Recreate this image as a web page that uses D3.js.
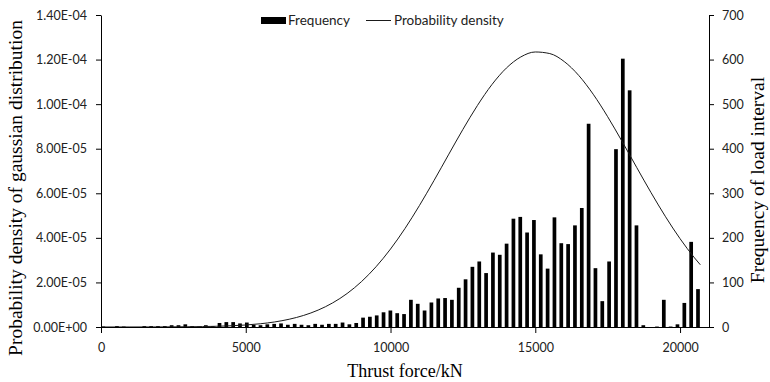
<!DOCTYPE html>
<html>
<head>
<meta charset="utf-8">
<script src="https://cdn.jsdelivr.net/npm/d3@7"></script>
<style>
  html, body { margin: 0; padding: 0; background: #fff; }
  svg { display: block; }
  .tick text { font-family: Lato, "Open Sans", sans-serif; font-size: 12.5px; fill: #222; }
</style>
</head>
<body>
<svg id="chart" width="770" height="382"></svg>
<script>
// ---- data ----
const binCenters = [79, 315, 551, 787, 1023, 1260, 1496, 1732, 1968, 2204,
  2440, 2676, 2912, 3148, 3384, 3621, 3857, 4093, 4329, 4565,
  4801, 5037, 5273, 5509, 5745, 5982, 6218, 6454, 6690, 6926,
  7162, 7398, 7634, 7870, 8106, 8343, 8579, 8815, 9051, 9287,
  9523, 9759, 9995, 10231, 10467, 10704, 10940, 11176, 11412, 11648,
  11884, 12120, 12356, 12592, 12828, 13065, 13301, 13537, 13773, 14009,
  14245, 14481, 14717, 14953, 15189, 15426, 15662, 15898, 16134, 16370,
  16606, 16842, 17078, 17314, 17550, 17787, 18023, 18259, 18495, 18731,
  18967, 19203, 19439, 19675, 19911, 20148, 20384, 20620];
const frequency = [1, 0, 2, 1, 0, 0, 2, 2, 2, 2,
  4, 4, 6, 2, 1, 4, 2, 9, 11, 11,
  8, 10, 5, 4, 6, 7, 8, 5, 7, 5,
  4, 7, 5, 7, 7, 10, 6, 9, 21, 23,
  26, 33, 37, 31, 29, 61, 52, 37, 55, 64,
  65, 61, 88, 107, 135, 147, 121, 167, 162, 187,
  243, 247, 212, 240, 163, 131, 246, 188, 186, 228,
  267, 456, 132, 58, 147, 399, 602, 531, 228, 4,
  0, 1, 61, 1, 6, 54, 191, 85];
const densityX = [0, 1000, 2000, 3000, 4000, 5000, 5500, 6000, 6500, 7000, 7500, 8000, 8500, 9000, 9500,
  10000, 10500, 11000, 11500, 12000, 12500, 13000, 13500, 14000, 14500, 15000, 15500,
  16000, 16500, 17000, 17500, 18000, 18500, 19000, 19500, 20000, 20500, 20700];
const densityY = [2.1e-9, 8.6e-9, 3.19e-8, 1.07e-7, 3.26e-7, 9.03e-7, 1.45e-6, 2.27e-6, 3.48e-6, 5.20e-6, 7.59e-6, 1.081e-5, 1.502e-5, 2.040e-5, 2.704e-5,
  3.499e-5, 4.421e-5, 5.454e-5, 6.568e-5, 7.723e-5, 8.866e-5, 9.937e-5, 1.0874e-4, 1.1618e-4, 1.2118e-4, 1.2341e-4, 1.2270e-4,
  1.1911e-4, 1.1289e-4, 1.0445e-4, 9.436e-5, 8.323e-5, 7.166e-5, 6.025e-5, 4.946e-5, 3.963e-5, 3.101e-5, 2.792e-5];
const xTicks = [0, 5000, 10000, 15000, 20000];
const yLeftTicks = [0, 2e-5, 4e-5, 6e-5, 8e-5, 1e-4, 1.2e-4, 1.4e-4];
const yRightTicks = [0, 100, 200, 300, 400, 500, 600, 700];
const seriesNames = ["Frequency", "Probability density"];
const xTitle = "Thrust force/kN";
const yLeftTitle = "Probability density of gaussian distribution";
const yRightTitle = "Frequency of load interval";

// ---- layout ----
const m = { left: 101, right: 709, top: 15, bottom: 327 };
const svg = d3.select("#chart");

const x = d3.scaleLinear().domain([0, 21000]).range([m.left, m.right]);
const yL = d3.scaleLinear().domain([0, 1.4e-4]).range([m.bottom, m.top]);
const yR = d3.scaleLinear().domain([0, 700]).range([m.bottom, m.top]);

function sci(v) {
  if (v === 0) return "0.00E+00";
  const s = v.toExponential(2).split("e");
  const e = parseInt(s[1], 10);
  const sign = e < 0 ? "-" : "+";
  const mag = String(Math.abs(e)).padStart(2, "0");
  return s[0] + "E" + sign + mag;
}

// bars
const barW = 3.7;
svg.append("g").selectAll("rect")
  .data(binCenters.map((c, i) => ({ c, f: frequency[i] })))
  .join("rect")
  .attr("x", d => x(d.c) - barW / 2)
  .attr("y", d => yR(d.f))
  .attr("width", barW)
  .attr("height", d => yR(0) - yR(d.f))
  .attr("fill", "#000");

// density line
const line = d3.line()
  .x((d, i) => x(densityX[i]))
  .y(d => yL(d))
  .curve(d3.curveMonotoneX);
svg.append("path")
  .datum(densityY)
  .attr("d", line)
  .attr("fill", "none")
  .attr("stroke", "#1a1a1a")
  .attr("stroke-width", 1);

// axes
const gx = svg.append("g")
  .attr("transform", `translate(0,${m.bottom})`)
  .call(d3.axisBottom(x).tickValues(xTicks).tickSize(6).tickSizeOuter(0).tickFormat(d3.format("d")));
gx.selectAll("text").attr("dy", "1.25em");

const gl = svg.append("g")
  .attr("transform", `translate(${m.left},0)`)
  .call(d3.axisLeft(yL).tickValues(yLeftTicks).tickSize(5).tickSizeOuter(0).tickFormat(sci));
gl.selectAll("text").attr("x", -14);

const gr = svg.append("g")
  .attr("transform", `translate(${m.right},0)`)
  .call(d3.axisRight(yR).tickValues(yRightTicks).tickSize(5).tickSizeOuter(0));
gr.selectAll("text").attr("x", 13);

svg.selectAll(".domain").attr("stroke", "#000");
svg.selectAll(".tick line").attr("stroke", "#000");

// titles
const serif = '"Liberation Serif", "Times New Roman", serif';
svg.append("text")
  .attr("x", 405).attr("y", 377)
  .attr("text-anchor", "middle")
  .attr("font-family", serif).attr("font-size", 18)
  .text(xTitle);
svg.append("text")
  .attr("transform", "translate(22,188) rotate(-90)")
  .attr("text-anchor", "middle")
  .attr("font-family", serif).attr("font-size", 19.5)
  .text(yLeftTitle);
svg.append("text")
  .attr("transform", "translate(764,180) rotate(-90)")
  .attr("text-anchor", "middle")
  .attr("font-family", serif).attr("font-size", 19.5)
  .text(yRightTitle);

// legend
const lg = svg.append("g").attr("font-family", "Lato, sans-serif").attr("font-size", 13.5).attr("fill", "#222");
lg.append("rect").attr("x", 261).attr("y", 17).attr("width", 25).attr("height", 7).attr("fill", "#000");
lg.append("text").attr("x", 288).attr("y", 25).text(seriesNames[0]);
lg.append("line").attr("x1", 366).attr("x2", 391).attr("y1", 20.5).attr("y2", 20.5)
  .attr("stroke", "#1a1a1a").attr("stroke-width", 1);
lg.append("text").attr("x", 394).attr("y", 25).text(seriesNames[1]);
</script>
</body>
</html>
